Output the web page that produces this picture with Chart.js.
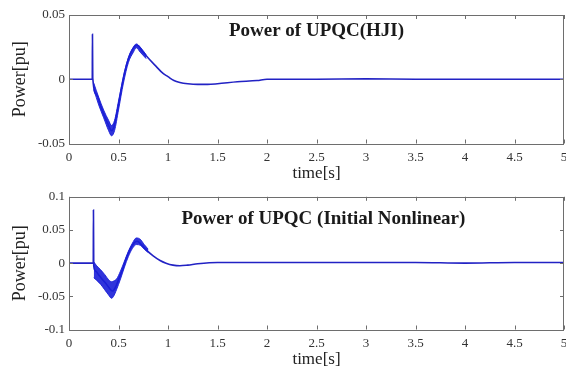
<!DOCTYPE html>
<html>
<head>
<meta charset="utf-8">
<script src="https://cdn.jsdelivr.net/npm/chart.js@4.4.1/dist/chart.umd.min.js"></script>
<style>
  html,body{margin:0;padding:0;background:#fff;}
  #wrap{position:relative;width:566px;height:371px;}
  #wrap canvas{position:absolute;left:0;}
</style>
</head>
<body>
<div id="wrap">
  <canvas id="chartHji" width="566" height="185" style="top:0"></canvas>
  <canvas id="chartNl" width="566" height="186" style="top:185px"></canvas>
</div>
<script>
// x axis (time, s)
const xTicks = [0,0.5,1,1.5,2,2.5,3,3.5,4,4.5,5];
const xTickLabels = ['0','0.5','1','1.5','2','2.5','3','3.5','4','4.5','5'];

// top plot: Power of UPQC(HJI)
const yTicksHji = [-0.05,0,0.05];
const yTickLabelsHji = ['-0.05','0','0.05'];
const timeHji = [0,0.235,0.237,0.240,0.28,0.32,0.36,0.40,0.43,0.45,0.48,0.52,0.56,0.60,0.64,0.68,0.70,0.74,0.80,0.88,0.95,1.0,1.06,1.12,1.2,1.3,1.4,1.5,1.7,1.9,2.0,2.5,3,3.5,4,4.5,5];
const powerHji = [0,0,0.035,0.001,-0.012,-0.021,-0.029,-0.036,-0.040,-0.038,-0.028,-0.011,0.005,0.016,0.023,0.0265,0.026,0.022,0.0165,0.010,0.0045,0.002,-0.001,-0.0025,-0.0035,-0.004,-0.004,-0.0035,-0.002,-0.001,0,0,0.0003,0,0,0,0];
// ripple band around the transient
const bandTimeHji = [0.25,0.30,0.35,0.40,0.43,0.46,0.50,0.55,0.60,0.65,0.68,0.72,0.78];
const bandHiHji = [-0.003,-0.014,-0.024,-0.032,-0.036,-0.032,-0.017,0.002,0.017,0.025,0.0275,0.025,0.019];
const bandLoHji = [-0.008,-0.020,-0.030,-0.040,-0.044,-0.040,-0.024,-0.003,0.013,0.021,0.0245,0.021,0.016];

// bottom plot: Power of UPQC (Initial Nonlinear)
const yTicksNl = [-0.1,-0.05,0,0.05,0.1];
const yTickLabelsNl = ['-0.1','-0.05','0','0.05','0.1'];
const timeNl = [0,0.245,0.247,0.250,0.27,0.30,0.34,0.38,0.42,0.44,0.47,0.50,0.54,0.58,0.62,0.66,0.69,0.73,0.78,0.85,0.92,0.98,1.05,1.12,1.2,1.3,1.5,2,2.5,3,3.5,4,4.5,5];
const powerNl = [0,0,0.080,-0.004,-0.012,-0.018,-0.025,-0.032,-0.040,-0.042,-0.036,-0.025,-0.010,0.008,0.022,0.031,0.033,0.028,0.020,0.011,0.004,0,-0.003,-0.004,-0.003,-0.001,0.001,0.001,0.001,0.001,0.001,0,0.001,0.001];
const bandTimeNl = [0.25,0.28,0.32,0.36,0.40,0.43,0.45,0.48,0.52,0.56,0.60,0.64,0.68,0.72,0.76,0.80];
const bandHiNl = [0.002,-0.004,-0.010,-0.017,-0.025,-0.028,-0.027,-0.024,-0.012,0.003,0.018,0.030,0.038,0.036,0.028,0.021];
const bandLoNl = [-0.022,-0.026,-0.032,-0.040,-0.048,-0.053,-0.050,-0.040,-0.024,-0.006,0.010,0.022,0.028,0.027,0.021,0.016];

const SERIF = "'Liberation Serif','Times New Roman',serif";
const LINE = '#2222c4';
const BAND = 'rgba(25,30,215,0.9)';

const pts = (t,v) => t.map((x,i)=>({x:x,y:v[i]}));

// box + inward ticks + inner title
const matlabBox = {
    id:'matlabBox',
    afterDraw(chart, args, opts){
        const {ctx, chartArea:a, scales} = chart;
        ctx.save();
        ctx.strokeStyle = '#6e6e6e';
        ctx.lineWidth = 1;
        ctx.strokeRect(Math.round(a.left)+0.5, Math.round(a.top)+0.5, Math.round(a.right-a.left)-1, Math.round(a.bottom-a.top));
        ctx.beginPath();
        xTicks.forEach(v=>{
            const px = Math.round(scales.x.getPixelForValue(v))+0.5;
            ctx.moveTo(px,a.bottom); ctx.lineTo(px,a.bottom-4);
            ctx.moveTo(px,a.top); ctx.lineTo(px,a.top+4);
        });
        scales.y.ticks.forEach(t=>{
            const py = Math.round(scales.y.getPixelForValue(t.value))+0.5;
            ctx.moveTo(a.left,py); ctx.lineTo(a.left+4,py);
            ctx.moveTo(a.right,py); ctx.lineTo(a.right-4,py);
        });
        ctx.stroke();
        ctx.fillStyle = '#1a1a1a';
        ctx.font = "bold 19px " + SERIF;
        ctx.textAlign = 'center';
        ctx.textBaseline = 'middle';
        ctx.fillText(opts.text, scales.x.getPixelForValue(opts.xAt), a.top + opts.dy);
        ctx.restore();
    }
};

function makeChart(id, yTicks, yLabels, series, band, titleText, titleX, titleDy, padTop){
    const yMin = yTicks[0], yMax = yTicks[yTicks.length-1];
    return new Chart(document.getElementById(id).getContext('2d'),{
        type:'line',
        data:{datasets:[
            {data:band[0],borderColor:BAND,borderWidth:1,backgroundColor:BAND,pointRadius:0,fill:'+1',cubicInterpolationMode:'monotone'},
            {data:band[1],borderColor:BAND,borderWidth:1,backgroundColor:BAND,pointRadius:0,fill:false,cubicInterpolationMode:'monotone'},
            {data:series,borderColor:LINE,borderWidth:1.6,pointRadius:0,fill:false,cubicInterpolationMode:'monotone'}
        ]},
        options:{
            responsive:false,
            devicePixelRatio:1,
            animation:false,
            layout:{padding:{left:0,right:2,top:padTop,bottom:0}},
            plugins:{legend:{display:false},tooltip:{enabled:false},
                matlabBox:{text:titleText,xAt:titleX,dy:titleDy}},
            scales:{
                x:{type:'linear',min:0,max:5,
                    afterFit:s=>{s.height=41.5;s.paddingLeft=0;s.paddingRight=0;},
                    afterBuildTicks:s=>{s.ticks = xTicks.map(v=>({value:v}));},
                    grid:{display:false,drawTicks:false},
                    border:{display:false},
                    ticks:{padding:6,color:'#333',maxRotation:0,autoSkip:false,
                        font:{family:SERIF,size:13},
                        callback:(v,i)=>xTickLabels[i]},
                    title:{display:true,text:'time[s]',color:'#222',padding:{top:0,bottom:1},
                        font:{family:SERIF,size:17}}
                },
                y:{min:yMin,max:yMax,
                    afterFit:s=>{s.width=69;},
                    afterBuildTicks:s=>{s.ticks = yTicks.map(v=>({value:v}));},
                    grid:{display:false,drawTicks:false},
                    border:{display:false},
                    ticks:{padding:4,color:'#333',autoSkip:false,
                        font:{family:SERIF,size:13},
                        callback:(v,i)=>yLabels[i]},
                    title:{display:true,text:'Power[pu]',color:'#222',padding:{top:9,bottom:0},
                        font:{family:SERIF,size:18}}
                }
            }
        },
        plugins:[matlabBox]
    });
}

makeChart('chartHji', yTicksHji, yTickLabelsHji, pts(timeHji,powerHji),
    [pts(bandTimeHji,bandHiHji), pts(bandTimeHji,bandLoHji)],
    'Power of UPQC(HJI)', 2.5, 16, 15);
makeChart('chartNl', yTicksNl, yTickLabelsNl, pts(timeNl,powerNl),
    [pts(bandTimeNl,bandHiNl), pts(bandTimeNl,bandLoNl)],
    'Power of UPQC (Initial Nonlinear)', 2.57, 22, 11);
</script>
</body>
</html>
